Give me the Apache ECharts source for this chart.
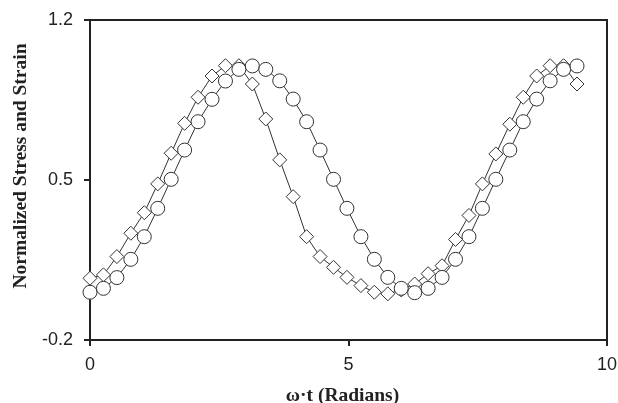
<!DOCTYPE html>
<html>
<head>
<meta charset="utf-8">
<script src="https://cdn.jsdelivr.net/npm/echarts@6/dist/echarts.min.js"></script>
<style>html,body{margin:0;padding:0;background:#fff}#c{width:618px;height:403px}</style>
</head>
<body>
<div id="c"></div>
<script>
const omegaT = [0, 0.26, 0.52, 0.79, 1.05, 1.31, 1.57, 1.83, 2.09, 2.36, 2.62, 2.88, 3.14, 3.40, 3.67, 3.93, 4.19, 4.45, 4.71, 4.97, 5.24, 5.50, 5.76, 6.02, 6.28, 6.54, 6.81, 7.07, 7.33, 7.59, 7.85, 8.12, 8.38, 8.64, 8.90, 9.16, 9.42];
const stress = [0.070, 0.085, 0.165, 0.267, 0.357, 0.483, 0.617, 0.748, 0.862, 0.955, 1.000, 1.000, 0.920, 0.767, 0.588, 0.427, 0.252, 0.165, 0.118, 0.074, 0.038, 0.009, 0.002, 0.019, 0.045, 0.090, 0.125, 0.240, 0.345, 0.483, 0.614, 0.744, 0.862, 0.955, 1.000, 1.000, 0.920];
const strain = [0.009, 0.026, 0.073, 0.153, 0.252, 0.376, 0.503, 0.631, 0.755, 0.853, 0.933, 0.984, 0.999, 0.984, 0.934, 0.854, 0.755, 0.631, 0.503, 0.376, 0.252, 0.153, 0.074, 0.026, 0.007, 0.026, 0.074, 0.153, 0.252, 0.376, 0.503, 0.631, 0.755, 0.854, 0.934, 0.984, 0.999];
const yTicks = [-0.2, 0.5, 1.2];
const xTicks = [0, 5, 10];

const pair = (xs, ys) => xs.map((x, i) => [x, ys[i]]);
const ink = '#222';
const chart = echarts.init(document.getElementById('c'));
chart.setOption({
  animation: false,
  backgroundColor: '#fff',
  grid: { left: 90, right: 11, top: 20, bottom: 63, outerBoundsMode: 'none', containLabel: false, show: true, borderColor: ink, borderWidth: 2, backgroundColor: 'transparent' },
  xAxis: {
    type: 'value', min: 0, max: 10, interval: 5,
    name: 'ω·t (Radians)', nameLocation: 'middle', nameGap: 46,
    nameTextStyle: { fontFamily: 'Liberation Serif', fontWeight: 'bold', fontSize: 19.5, color: ink, padding: [0, 12, 0, 0] },
    axisLine: { show: true, onZero: false, lineStyle: { color: ink, width: 2 } },
    axisTick: { show: true, length: 6, lineStyle: { color: ink, width: 2 }, customValues: xTicks },
    axisLabel: { fontFamily: 'Liberation Sans', fontSize: 18, color: ink, margin: 16, customValues: xTicks },
    splitLine: { show: false }
  },
  yAxis: {
    type: 'value', min: -0.2, max: 1.2,
    name: 'Normalized Stress and Strain', nameLocation: 'middle', nameGap: 58,
    nameTextStyle: { fontFamily: 'Liberation Serif', fontWeight: 'bold', fontSize: 19.5, color: ink, padding: [0, 0, 0, 28] },
    axisLine: { show: true, onZero: false, lineStyle: { color: ink, width: 2 } },
    axisTick: { show: true, length: 6, lineStyle: { color: ink, width: 2 }, customValues: yTicks },
    axisLabel: { fontFamily: 'Liberation Sans', fontSize: 18, color: ink, margin: 17, customValues: yTicks, formatter: v => v.toFixed(1) },
    splitLine: { show: false }
  },
  series: [
    {
      name: 'Stress', type: 'line', data: pair(omegaT, stress),
      symbol: 'diamond', symbolSize: 14, showAllSymbol: true,
      lineStyle: { color: '#333', width: 1 },
      itemStyle: { color: '#fff', borderColor: '#333', borderWidth: 1 },
      z: 2
    },
    {
      name: 'Strain', type: 'line', data: pair(omegaT, strain),
      symbol: 'circle', symbolSize: 14, showAllSymbol: true,
      lineStyle: { color: '#333', width: 1 },
      itemStyle: { color: '#fff', borderColor: '#333', borderWidth: 1 },
      z: 3
    }
  ]
});
</script>
</body>
</html>
